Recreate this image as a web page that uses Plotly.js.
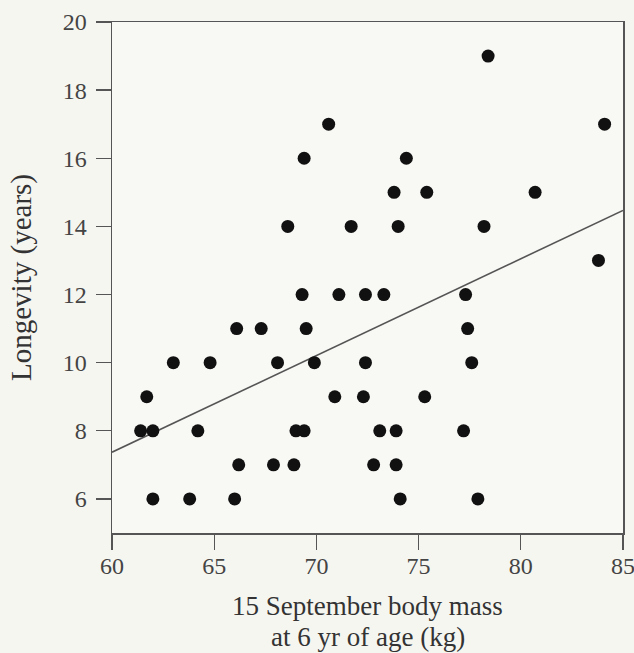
<!DOCTYPE html>
<html>
<head>
<meta charset="utf-8">
<script src="https://cdn.plot.ly/plotly-3.0.1.min.js"></script>
<style>html,body{margin:0;padding:0;background:#f6f6f1;}</style>
</head>
<body>
<div id="chart" style="width:634px;height:653px;"></div>
<script>
// Body mass (kg) and longevity (years)
var massKg = [
  70.6, 69.4, 68.6, 71.7,
  78.4, 84.1, 74.4, 73.8, 75.4, 80.7, 74.0, 78.2, 83.8,
  69.3, 71.1, 72.4, 73.3, 77.3,
  66.1, 67.3, 69.5, 77.4,
  63.0, 64.8, 68.1, 69.9, 72.4, 77.6,
  61.7, 70.9, 72.3, 75.3,
  61.4, 62.0, 64.2, 69.0, 69.4, 73.1, 73.9, 77.2,
  66.2, 67.9, 68.9, 72.8, 73.9,
  62.0, 63.8, 66.0, 74.1, 77.9
];
var longevityYears = [
  17, 16, 14, 14,
  19, 17, 16, 15, 15, 15, 14, 14, 13,
  12, 12, 12, 12, 12,
  11, 11, 11, 11,
  10, 10, 10, 10, 10, 10,
  9, 9, 9, 9,
  8, 8, 8, 8, 8, 8, 8, 8,
  7, 7, 7, 7, 7,
  6, 6, 6, 6, 6
];
// Regression line endpoints
var fitX = [60, 85];
var fitY = [7.37, 14.47];
var xTicks = [60, 65, 70, 75, 80, 85];
var yTicks = [6, 8, 10, 12, 14, 16, 18, 20];
var xTitleLine1 = '15 September body mass';
var xTitleLine2 = 'at 6 yr of age (kg)';
var yTitle = 'Longevity (years)';

var serif = 'Liberation Serif';
var data = [
  {x: fitX, y: fitY, type: 'scatter', mode: 'lines',
   line: {color: '#555555', width: 1.6}, hoverinfo: 'skip'},
  {x: massKg, y: longevityYears, type: 'scatter', mode: 'markers',
   marker: {color: '#111111', size: 13}}
];
var axisCommon = {
  showgrid: false, zeroline: false, showline: true, mirror: true,
  linecolor: '#555555', linewidth: 1.5, ticks: 'outside', ticklen: 15,
  tickcolor: '#555555', tickwidth: 1.3,
  ticklabeloverflow: 'allow',
  tickfont: {family: serif, size: 24, color: '#444444'}
};
var layout = {
  width: 634, height: 653,
  margin: {l: 112, r: 11, t: 22, b: 120},
  paper_bgcolor: '#f6f6f1', plot_bgcolor: '#f8f8f4',
  showlegend: false,
  xaxis: Object.assign({}, axisCommon, {
    range: [60, 85], tickvals: xTicks, ticktext: xTicks.map(String),
    ticklabelstandoff: -4
  }),
  yaxis: Object.assign({}, axisCommon, {
    range: [5, 20], tickvals: yTicks, ticktext: yTicks.map(String),
    ticklabelstandoff: 4,
    title: {text: yTitle, standoff: 22,
            font: {family: serif, size: 29, color: '#333333'}}
  }),
  annotations: [
    {text: xTitleLine1, xref: 'paper', yref: 'paper', x: 0.5, y: 0,
     xanchor: 'center', yanchor: 'middle', yshift: -73, showarrow: false,
     font: {family: serif, size: 27, color: '#333333'}},
    {text: xTitleLine2, xref: 'paper', yref: 'paper', x: 0.5, y: 0,
     xanchor: 'center', yanchor: 'middle', yshift: -104, showarrow: false,
     font: {family: serif, size: 27, color: '#333333'}}
  ]
};
Plotly.newPlot('chart', data, layout, {staticPlot: true, displayModeBar: false});
</script>
</body>
</html>
